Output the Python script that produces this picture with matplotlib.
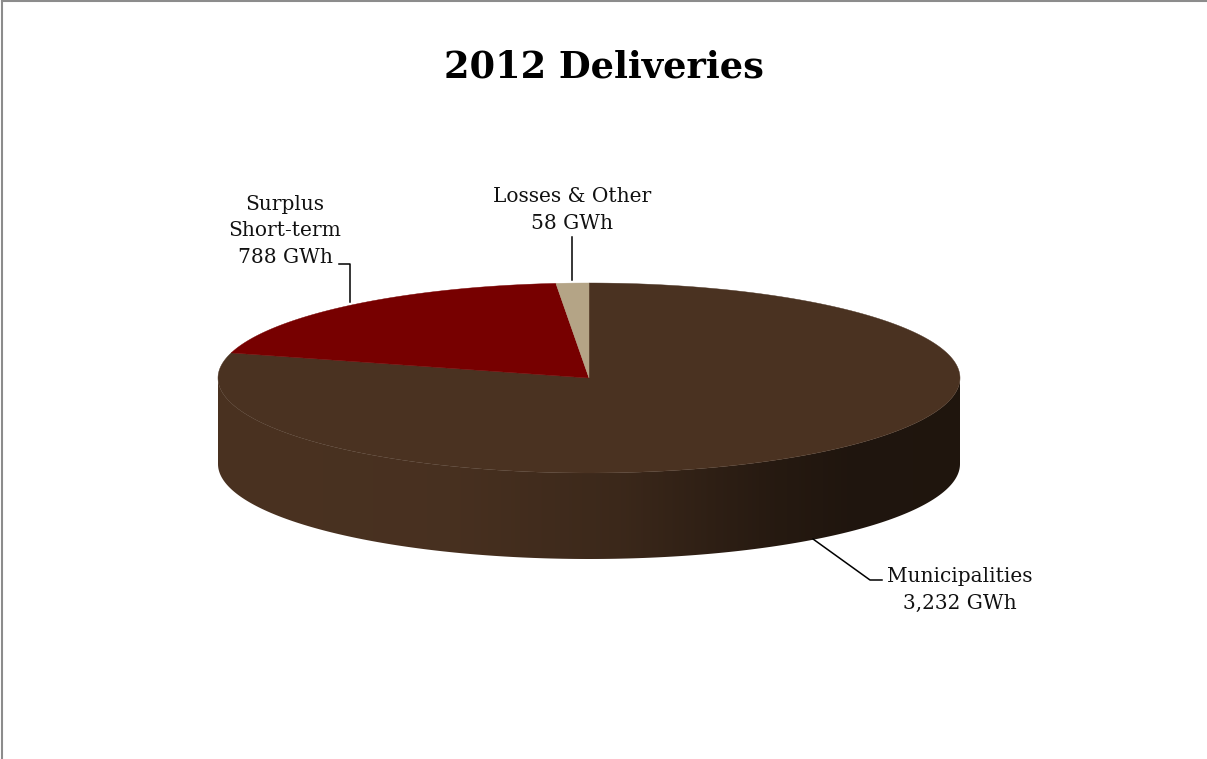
import numpy as np
import matplotlib
matplotlib.use("Agg")
import matplotlib.pyplot as plt
from matplotlib.patches import Polygon

# 2012 deliveries, GWh (clockwise from 12 o'clock)
names = ["Municipalities", "Surplus\nShort-term", "Losses & Other"]
gwh = [3232, 788, 58]
value_text = ["3,232 GWh", "788 GWh", "58 GWh"]
top_colors = ["#4a3221", "#770000", "#b4a486"]

# pie geometry in pixel units
cx, cy = 589, 378
ra, rb = 371, 95
depth = 86

W, H = 1207, 759
fig = plt.figure(figsize=(W / 100, H / 100), dpi=100)
ax = fig.add_axes([0, 0, 1, 1])
ax.set_xlim(0, W)
ax.set_ylim(H, 0)
ax.axis("off")

def rim(t, dy=0):
    t = np.radians(t)
    return np.column_stack([cx + ra * np.cos(t), cy - rb * np.sin(t) + dy])

total = float(sum(gwh))
ends = 90 - 360 * np.cumsum(gwh) / total
starts = np.concatenate([[90], ends[:-1]])

# side wall (front half only, angles -180..0)
for s, e, c in zip(starts, ends, top_colors):
    lo, hi = max(e, -180), min(s, 0)
    if hi <= lo:
        continue
    t = np.linspace(lo, hi, 200)
    pts = np.vstack([rim(t), rim(t[::-1], depth)])
    patch = Polygon(pts, closed=True, facecolor="none", edgecolor="none")
    ax.add_patch(patch)
    base = np.array(matplotlib.colors.to_rgb(c))
    xs = np.linspace(0, W, 600)
    shade = np.interp(xs, [218, 450, 620, 770, 850, 960], [1.0, 0.97, 0.8, 0.52, 0.43, 0.42])
    grad = np.tile((base[None, :] * shade[:, None])[None, :, :], (2, 1, 1))
    im = ax.imshow(grad, extent=[0, W, H, 0], aspect="auto", interpolation="bilinear", zorder=1)
    im.set_clip_path(patch)

# top face wedges
for s, e, c in zip(starts, ends, top_colors):
    t = np.linspace(s, e, 300)
    pts = np.vstack([[cx, cy], rim(t)])
    ax.add_patch(Polygon(pts, closed=True, facecolor=c, edgecolor=c, lw=0.3, zorder=2))

# title
ax.text(604, 77, "2012 Deliveries", ha="center", va="baseline",
        fontsize=26.5, fontweight="bold", family="DejaVu Serif")

lab_kw = dict(ha="center", va="baseline", fontsize=14.5, family="DejaVu Serif",
              color="#111111", linespacing=1.5)
ax.text(285, 263, names[1] + "\n" + value_text[1], **lab_kw)
ax.text(572, 229, names[2] + "\n" + value_text[2], **lab_kw)
ax.text(960, 609, names[0] + "\n" + value_text[0], **lab_kw)

# leader lines
ln = dict(color="black", lw=1.1, zorder=3)
ax.plot([339, 350, 350], [264, 264, 302], **ln)
ax.plot([572, 572], [237, 280], **ln)
ax.plot([813, 870, 882], [539, 580, 580], **ln)

# chart frame (top and left edges)
ax.plot([2, W], [1, 1], color="#8c8c8c", lw=1.5, zorder=4)
ax.plot([2, 2], [1, H], color="#8c8c8c", lw=1.5, zorder=4)

fig.savefig("out.png", dpi=100)
